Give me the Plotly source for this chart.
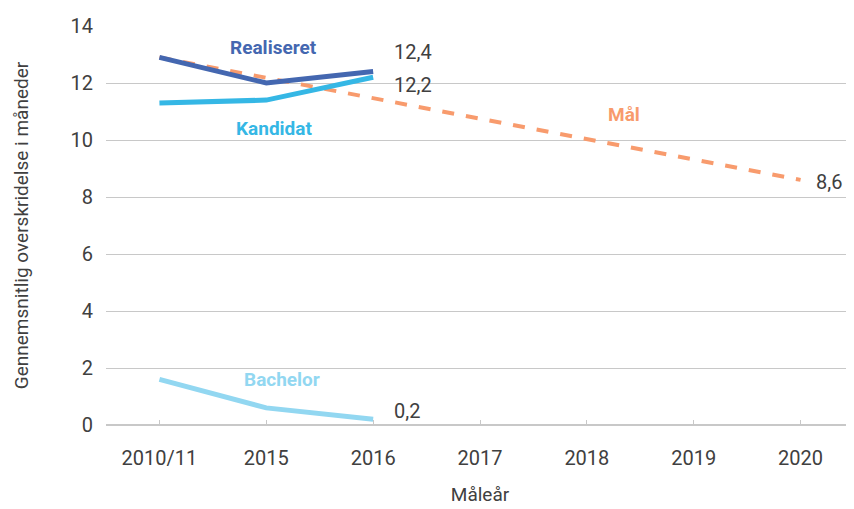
import plotly.graph_objects as go

categories = ["2010/11", "2015", "2016", "2017", "2018", "2019", "2020"]
obs_years = ["2010/11", "2015", "2016"]
realiseret = [12.9, 12.0, 12.4]
kandidat = [11.3, 11.4, 12.2]
bachelor = [1.6, 0.6, 0.2]
maal_years = ["2010/11", "2020"]
maal = [12.9, 8.6]

C_REAL = "#4467B0"
C_KAND = "#35B7E5"
C_BACH = "#92D7F1"
C_MAAL = "#F89B6D"
TXT = "#404040"
FONT = "Roboto, Liberation Sans, sans-serif"

fig = go.Figure()
fig.add_trace(go.Scatter(x=maal_years, y=maal, mode="lines",
                         line=dict(color=C_MAAL, width=4, dash="dash")))
fig.add_trace(go.Scatter(x=obs_years, y=kandidat, mode="lines",
                         line=dict(color=C_KAND, width=5)))
fig.add_trace(go.Scatter(x=obs_years, y=realiseret, mode="lines",
                         line=dict(color=C_REAL, width=5)))
fig.add_trace(go.Scatter(x=obs_years, y=bachelor, mode="lines",
                         line=dict(color=C_BACH, width=5)))

def fmt(v):
    return f"{v:.1f}".replace(".", ",")

ann = []
# value labels at last points
for xs, ys, dx, dy in [(obs_years, realiseret, 19, 20), (obs_years, kandidat, 19, -8),
                       (obs_years, bachelor, 19, 8), (maal_years, maal, 13, -2)]:
    ann.append(dict(x=categories.index(xs[-1]), y=ys[-1], text=fmt(ys[-1]),
                    xanchor="left", yanchor="middle", xshift=dx, yshift=dy,
                    showarrow=False, font=dict(size=20, color=TXT, family=FONT)))
# series labels
for x, y, t, c in [(1.07, 13.26, "Realiseret", C_REAL), (1.07, 10.42, "Kandidat", C_KAND),
                   (1.15, 1.61, "Bachelor", C_BACH), (4.35, 10.88, "Mål", C_MAAL)]:
    ann.append(dict(x=x, y=y, text=f"<b>{t}</b>", showarrow=False,
                    xanchor="center", yanchor="middle",
                    font=dict(size=19, color=c, family=FONT)))

fig.update_layout(
    width=846, height=501, showlegend=False,
    margin=dict(l=98, r=0, t=18, b=84),
    plot_bgcolor="white", paper_bgcolor="white",
    font=dict(family=FONT, color=TXT),
    annotations=ann,
    xaxis=dict(type="category", categoryorder="array", categoryarray=categories,
               range=[-0.5, 6.5], showgrid=False, showline=False, zeroline=False,
               automargin=False,
               ticks="inside", ticklen=5, tickcolor="#C8C8C8",
               tickfont=dict(size=20, color=TXT), ticklabelstandoff=19,
               title=dict(text="Måleår", font=dict(size=19, color=TXT), standoff=18)),
    yaxis=dict(range=[0, 14], dtick=2, showgrid=True, gridcolor="#C8C8C8", gridwidth=1,
               zeroline=True, zerolinecolor="#C8C8C8", zerolinewidth=1.5,
               automargin=False,
               showline=False, ticks="", tickfont=dict(size=20, color=TXT),
               ticklabelstandoff=12,
               title=dict(text="Gennemsnitlig overskridelse i måneder",
                          font=dict(size=19, color=TXT), standoff=36)),
)
fig.write_html("out.html")
